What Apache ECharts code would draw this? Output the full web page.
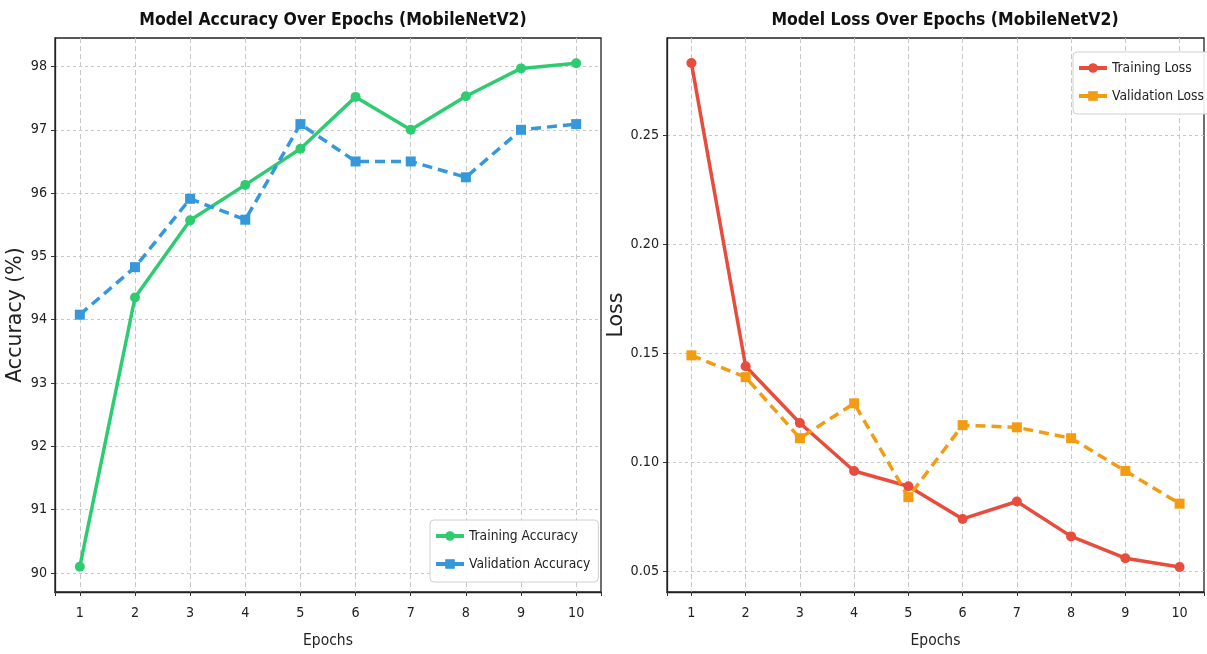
<!DOCTYPE html>
<html>
<head>
<meta charset="utf-8">
<script src="https://cdn.jsdelivr.net/npm/echarts@6/dist/echarts.min.js"></script>
<style>
  html, body { margin: 0; padding: 0; background: #fff; }
  #chart { width: 1207px; height: 654px; }
</style>
</head>
<body>
<div id="chart"></div>
<script>
// values
var epochs = [1, 2, 3, 4, 5, 6, 7, 8, 9, 10]
var trainAcc = [90.1, 94.35, 95.57, 96.13, 96.7, 97.52, 97.0, 97.53, 97.97, 98.05]
var valAcc = [94.08, 94.83, 95.91, 95.58, 97.09, 96.5, 96.5, 96.25, 97.0, 97.09]
var trainLoss = [0.283, 0.144, 0.118, 0.096, 0.089, 0.074, 0.082, 0.066, 0.056, 0.052]
var valLoss = [0.149, 0.139, 0.111, 0.127, 0.084, 0.117, 0.116, 0.111, 0.096, 0.081]

// pick a narrow font if one is there
function hasFont (name) {
  var ctx = document.createElement('canvas').getContext('2d')
  var t = 'Training Accuracy 0123456789'
  ctx.font = '40px monospace'
  var w0 = ctx.measureText(t).width
  ctx.font = "40px '" + name + "', monospace"
  return ctx.measureText(t).width !== w0
}
var FONT = 'DejaVu Sans'
var k = 0.78
if (hasFont('Liberation Sans Narrow')) { FONT = 'Liberation Sans Narrow'; k = 1 } else if (hasFont('DejaVu Sans Condensed')) { FONT = 'DejaVu Sans Condensed'; k = 0.86 }

function pairs (ys) {
  return epochs.map(function (e, i) { return [e, ys[i]] })
}

function xAxisFor (idx) {
  return {
    type: 'value',
    gridIndex: idx,
    min: 0.55,
    max: 10.45,
    minInterval: 1,
    maxInterval: 1,
    name: 'Epochs',
    nameLocation: 'middle',
    nameGap: 41,
    nameTextStyle: { fontFamily: FONT, fontSize: 18 * k, color: '#222' },
    axisLine: { show: true, lineStyle: { color: '#222', width: 1.3 } },
    axisTick: { show: true, inside: false, length: 4, lineStyle: { color: '#333' } },
    axisLabel: {
      fontFamily: FONT, fontSize: 16.5 * k, color: '#222', margin: 14,
      formatter: function (v) { return Number.isInteger(v) ? String(v) : '' }
    },
    splitLine: { show: true, showMinLine: false, showMaxLine: false, lineStyle: { color: '#c8c8c8', type: [5, 3], width: 1 } }
  }
}

function yAxisFor (idx, min, max, step, name, digits) {
  return {
    type: 'value',
    gridIndex: idx,
    min: min,
    max: max,
    minInterval: step,
    maxInterval: step,
    splitNumber: Math.round((max - min) / step),
    name: name,
    nameLocation: 'middle',
    nameGap: idx === 0 ? 29 : 38,
    nameTextStyle: { fontFamily: "'DejaVu Sans', sans-serif", fontSize: 20.5, color: '#222' },
    axisLine: { show: true, lineStyle: { color: '#222', width: 1.3 } },
    axisTick: { show: true, inside: false, length: 4, lineStyle: { color: '#333' } },
    axisLabel: {
      fontFamily: FONT, fontSize: 16.5 * k, color: '#222', margin: 8,
      showMinLabel: false, showMaxLabel: false,
      formatter: function (v) { return v.toFixed(digits) }
    },
    splitLine: { show: true, showMinLine: false, showMaxLine: false, lineStyle: { color: '#c8c8c8', type: [3, 3], width: 1 } }
  }
}

function lineSeries (name, idx, ys, color, symbol, dashed) {
  return {
    name: name,
    type: 'line',
    xAxisIndex: idx,
    yAxisIndex: idx,
    data: pairs(ys),
    symbol: symbol,
    symbolSize: 10,
    showAllSymbol: true,
    itemStyle: { color: color },
    lineStyle: { color: color, width: 3.5, type: dashed ? [10, 6] : 'solid' },
    emphasis: { disabled: true },
    animation: false
  }
}

function legendFor (names, left, top) {
  return {
    data: names,
    orient: 'vertical',
    left: left,
    top: top,
    itemWidth: 28,
    itemHeight: 12,
    itemGap: 14,
    padding: [9, 8, 11, 4],
    lineStyle: { width: 4, type: 'solid' },
    backgroundColor: 'rgba(255,255,255,0.9)',
    borderColor: '#d0d0d0',
    borderWidth: 1,
    borderRadius: 4,
    textStyle: { fontFamily: FONT, fontSize: 16 * k, color: '#222' }
  }
}

var chart = echarts.init(document.getElementById('chart'), null, { renderer: 'canvas' })
var option = {
  backgroundColor: '#fff',
  animation: false,
  title: [
    {
      text: 'Model Accuracy Over Epochs (MobileNetV2)',
      left: 328, top: 7, textAlign: 'center',
      textStyle: { fontFamily: FONT, fontSize: 20.3 * k, fontWeight: 'bold', color: '#111' }
    },
    {
      text: 'Model Loss Over Epochs (MobileNetV2)',
      left: 940, top: 7, textAlign: 'center',
      textStyle: { fontFamily: FONT, fontSize: 20.3 * k, fontWeight: 'bold', color: '#111' }
    }
  ],
  grid: [
    { left: 55, top: 38, width: 546, height: 554, show: true, borderColor: '#222', borderWidth: 1.3, backgroundColor: 'transparent' },
    { left: 667, top: 38, width: 546, height: 554, show: true, borderColor: '#222', borderWidth: 1.3, backgroundColor: 'transparent' }
  ],
  xAxis: [xAxisFor(0), xAxisFor(1)],
  yAxis: [
    yAxisFor(0, 89.7, 98.45, 1, 'Accuracy (%)', 0),
    yAxisFor(1, 0.0405, 0.2945, 0.05, 'Loss', 2)
  ],
  legend: [
    legendFor(['Training Accuracy', 'Validation Accuracy'], 430, 520),
    legendFor(['Training Loss', 'Validation Loss'], 1073, 52)
  ],
  series: [
    lineSeries('Training Accuracy', 0, trainAcc, '#2ecc71', 'circle', false),
    lineSeries('Validation Accuracy', 0, valAcc, '#3498db', 'rect', true),
    lineSeries('Training Loss', 1, trainLoss, '#e74c3c', 'circle', false),
    lineSeries('Validation Loss', 1, valLoss, '#f39c12', 'rect', true)
  ]
}
chart.setOption(option)
</script>
</body>
</html>
